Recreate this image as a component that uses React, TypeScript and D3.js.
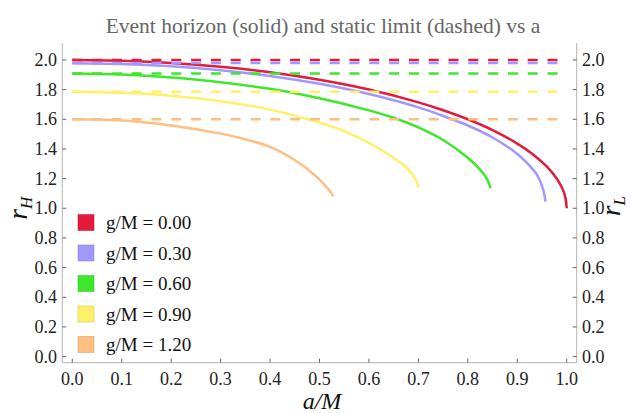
import React from "react";
import * as d3 from "d3";

// ---- data ----
const gLabels = ["g/M = 0.00", "g/M = 0.30", "g/M = 0.60", "g/M = 0.90", "g/M = 1.20"];
const colors = ["#E31A3C", "#9F98FF", "#3DE82A", "#FFF066", "#FFBE82"];

const aG000 = [0, 0.1, 0.2, 0.3, 0.4, 0.5, 0.6, 0.7, 0.75, 0.8, 0.85, 0.9, 0.93, 0.96, 0.98, 0.99, 0.997, 1.0];
const rG000 = [2.0, 1.995, 1.98, 1.954, 1.917, 1.866, 1.8, 1.714, 1.661, 1.6, 1.527, 1.436, 1.368, 1.28, 1.199, 1.141, 1.077, 1.0];

const aG030 = [0, 0.1, 0.2, 0.3, 0.4, 0.5, 0.6, 0.7, 0.75, 0.8, 0.85, 0.9, 0.93, 0.94, 0.952, 0.957];
const rG030 = [1.978, 1.973, 1.957, 1.93, 1.892, 1.839, 1.77, 1.68, 1.622, 1.558, 1.477, 1.366, 1.268, 1.225, 1.13, 1.045];

const aG060 = [0, 0.1, 0.2, 0.3, 0.4, 0.5, 0.6, 0.65, 0.7, 0.75, 0.8, 0.825, 0.84, 0.846];
const rG060 = [1.908, 1.901, 1.881, 1.85, 1.805, 1.742, 1.66, 1.61, 1.545, 1.46, 1.34, 1.26, 1.19, 1.135];

const aG090 = [0, 0.1, 0.2, 0.3, 0.4, 0.5, 0.55, 0.6, 0.65, 0.68, 0.695, 0.7];
const rG090 = [1.786, 1.779, 1.759, 1.722, 1.665, 1.577, 1.52, 1.44, 1.34, 1.26, 1.19, 1.14];

const aG120 = [0, 0.1, 0.2, 0.3, 0.35, 0.4, 0.45, 0.494, 0.52, 0.528];
const rG120 = [1.6, 1.592, 1.558, 1.503, 1.465, 1.414, 1.325, 1.213, 1.12, 1.08];

const staticLimit = [2.0, 1.98, 1.908, 1.786, 1.6];

const xTicks = [0, 0.1, 0.2, 0.3, 0.4, 0.5, 0.6, 0.7, 0.8, 0.9, 1.0];
const yTicks = [0, 0.2, 0.4, 0.6, 0.8, 1.0, 1.2, 1.4, 1.6, 1.8, 2.0];

const aSeries = [aG000, aG030, aG060, aG090, aG120];
const rSeries = [rG000, rG030, rG060, rG090, rG120];

const W = 631;
const H = 413;
const FONT = '"Liberation Serif", "Times New Roman", Times, "DejaVu Serif", serif';

export default function App() {
  const left = 62.3, right = 576.7, top = 43, bottom = 362.7;
  const x = d3.scaleLinear().domain([-0.0202, 1.0202]).range([left, right]);
  const y = d3.scaleLinear().domain([-0.041, 2.114]).range([bottom, top]);

  const line = d3
    .line<[number, number]>()
    .x((d) => x(d[0]))
    .y((d) => y(d[1]))
    .curve(d3.curveCatmullRom.alpha(0.5));

  const straight = d3
    .line<[number, number]>()
    .x((d) => x(d[0]))
    .y((d) => y(d[1]));

  const axisColor = "#b4b4b4";
  const tickColor = "#666";
  const tickLen = 4;

  return (
    <svg
      width={W}
      height={H}
      style={{ position: "absolute", left: 0, top: 0, background: "#fff", fontFamily: FONT }}
    >
      <rect x={0} y={0} width={W} height={H} fill="#fff" />
      {/* title */}
      <text x={323} y={33} textAnchor="middle" fontSize={21.5} fill="#666">
        Event horizon (solid) and static limit (dashed) vs a
      </text>

      {/* frame: left, bottom, right */}
      <line x1={left} x2={left} y1={top} y2={bottom} stroke={axisColor} strokeWidth={1} />
      <line x1={right} x2={right} y1={top} y2={bottom} stroke={axisColor} strokeWidth={1} />
      <line x1={left} x2={right} y1={bottom} y2={bottom} stroke={axisColor} strokeWidth={1} />

      {/* x ticks */}
      {xTicks.map((t) => (
        <g key={"xt" + t}>
          <line x1={x(t)} x2={x(t)} y1={bottom} y2={bottom - tickLen} stroke={tickColor} strokeWidth={1} />
          <text x={x(t)} y={385} textAnchor="middle" fontSize={18} fill="#222">
            {t.toFixed(1)}
          </text>
        </g>
      ))}

      {/* y ticks both sides */}
      {yTicks.map((t) => (
        <g key={"yt" + t}>
          <line x1={left} x2={left + tickLen} y1={y(t)} y2={y(t)} stroke={tickColor} strokeWidth={1} />
          <line x1={right} x2={right - tickLen} y1={y(t)} y2={y(t)} stroke={tickColor} strokeWidth={1} />
          <text x={57} y={y(t) + 6} textAnchor="end" fontSize={18} fill="#222">
            {t.toFixed(1)}
          </text>
          <text x={582} y={y(t) + 6} textAnchor="start" fontSize={18} fill="#222">
            {t.toFixed(1)}
          </text>
        </g>
      ))}

      {/* solid horizon curves */}
      {aSeries.map((as, i) => (
        <path
          key={"s" + i}
          d={line(as.map((a, j) => [a, rSeries[i][j]] as [number, number])) || ""}
          fill="none"
          stroke={colors[i]}
          strokeWidth={2.5}
        />
      ))}

      {/* dashed static limits */}
      {staticLimit.map((r, i) => (
        <path
          key={"d" + i}
          d={straight([[0, r], [1, r]]) || ""}
          fill="none"
          stroke={colors[i]}
          strokeWidth={2.5}
          strokeDasharray="10,9.8"
        />
      ))}

      {/* axis labels */}
      <text
        transform={`translate(27,${208}) rotate(-90)`}
        textAnchor="middle"
        fontSize={27}
        fontStyle="italic"
        fill="#111"
      >
        r
        <tspan fontSize={17} dy={5}>H</tspan>
      </text>
      <text
        transform={`translate(620,${206}) rotate(-90)`}
        textAnchor="middle"
        fontSize={27}
        fontStyle="italic"
        fill="#111"
      >
        r
        <tspan fontSize={17} dy={5}>L</tspan>
      </text>
      <text x={322} y={409} textAnchor="middle" fontSize={24} fontStyle="italic" fill="#111">
        a/M
      </text>

      {/* legend */}
      {gLabels.map((lab, i) => {
        const cy = 222.5 + i * 30.5;
        return (
          <g key={"lg" + i}>
            <rect
              x={78}
              y={cy - 8}
              width={16}
              height={16}
              fill={colors[i]}
              stroke={d3.color(colors[i])!.darker(0.6).formatHex()}
              strokeOpacity={0.5}
              strokeWidth={1}
            />
            <text x={106} y={cy + 6.5} fontSize={19} fill="#111">
              {lab}
            </text>
          </g>
        );
      })}
    </svg>
  );
}
